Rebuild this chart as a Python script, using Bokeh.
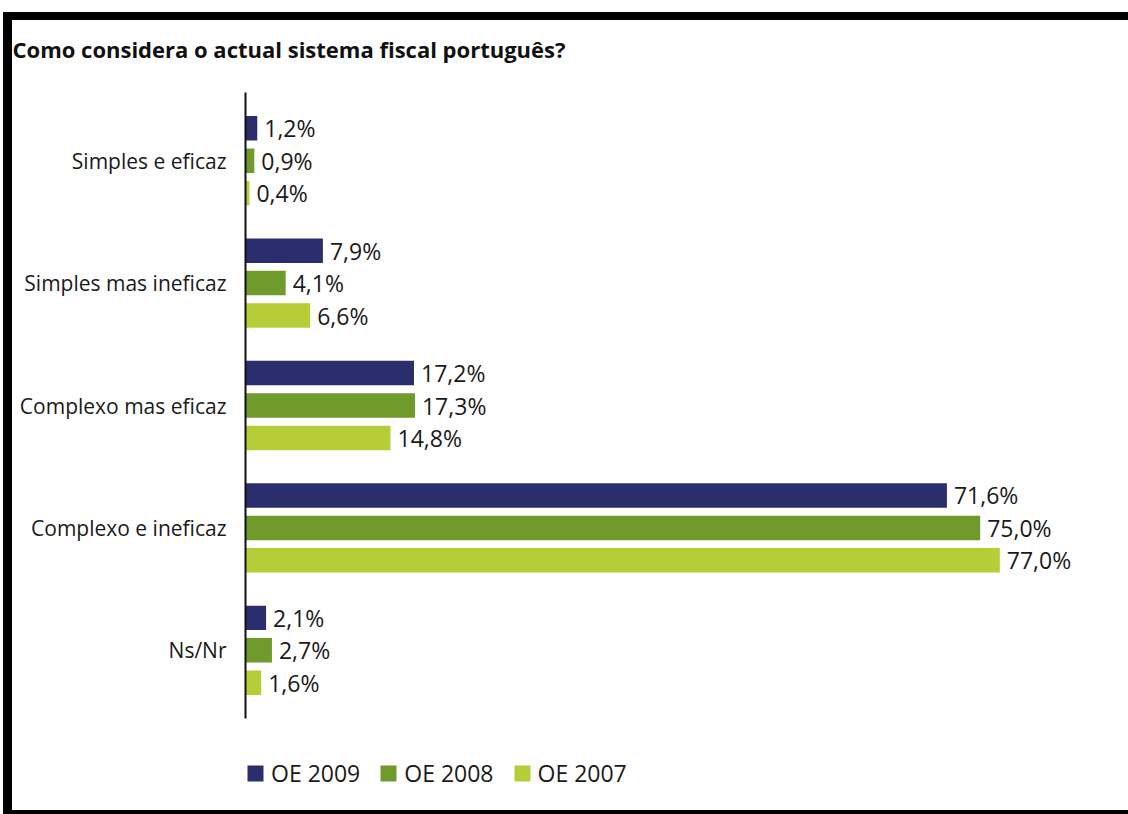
from bokeh.plotting import figure
from bokeh.layouts import column
from bokeh.models import ColumnDataSource, FactorRange, Range1d, Legend, LegendItem
from bokeh.transform import dodge
from bokeh.core.properties import value
from bokeh.embed import file_html
from bokeh.resources import INLINE

categories = ["Simples e eficaz", "Simples mas ineficaz", "Complexo mas eficaz", "Complexo e ineficaz", "Ns/Nr"]
series = ["OE 2009", "OE 2008", "OE 2007"]
oe2009 = [1.2, 7.9, 17.2, 71.6, 2.1]
oe2008 = [0.9, 4.1, 17.3, 75.0, 2.7]
oe2007 = [0.4, 6.6, 14.8, 77.0, 1.6]
colors = ["#2a2e6c", "#6f9a2c", "#b6cd37"]
title_text = "Como considera o actual sistema fiscal português?"

FONT = "Open Sans"


def fmt(v):
    return f"{v:.1f}".replace(".", ",") + "%"


W, H_MAIN, H_LEG = 1128, 740, 74
p = figure(width=W, height=H_MAIN, output_backend="svg", toolbar_location=None,
           title=title_text, x_axis_location=None,
           y_range=FactorRange(factors=categories[::-1], range_padding=0.057,
                               range_padding_units="absolute"),
           x_range=Range1d(0, 88.3),
           min_border_left=245, min_border_right=18, min_border_top=92, min_border_bottom=22)
p.title.align = "left"
p.title.offset = -233
p.title.standoff = 58
p.title.text_font = FONT
p.title.text_font_style = "bold"
p.title.text_font_size = "22px"
p.title.text_color = "#111111"

p.xgrid.visible = False
p.ygrid.visible = False
p.outline_line_color = None
p.background_fill_color = "white"
p.border_fill_alpha = 0

ax = p.yaxis[0]
ax.axis_line_color = "#111111"
ax.axis_line_width = 2
ax.major_tick_line_color = None
ax.minor_tick_line_color = None
ax.major_label_text_font = FONT
ax.major_label_text_font_size = "21px"
ax.major_label_text_color = "#1a1a1a"
ax.major_label_standoff = 13

# small strip below the chart that carries the legend
pl = figure(width=W, height=H_LEG, output_backend="svg", toolbar_location=None,
            x_axis_location=None, y_axis_location=None,
            x_range=Range1d(0, 1), y_range=Range1d(0, 1),
            min_border=0)
pl.xgrid.visible = False
pl.ygrid.visible = False
pl.outline_line_color = None
pl.background_fill_alpha = 0
pl.border_fill_alpha = 0

items = []
for s, vals, col, off in zip(series, [oe2009, oe2008, oe2007], colors, [0.265, 0.0, -0.265]):
    src = ColumnDataSource(dict(cat=categories, val=vals, lbl=[fmt(v) for v in vals]))
    p.hbar(y=dodge("cat", off, range=p.y_range), left=0, right="val", height=0.2,
           fill_color=col, line_color=None, source=src)
    p.text(x="val", y=dodge("cat", off, range=p.y_range), text="lbl", x_offset=7,
           text_baseline="middle", text_align="left", text_font=value(FONT),
           text_font_size="23px", text_color="#1a1a1a", source=src)
    # legend key: same series, hidden in the strip (only its swatch is shown)
    key = pl.hbar(y="val", left=0, right="val", height=0.2, fill_color=col, line_color=None,
                  source=src, visible=False)
    items.append(LegendItem(label=s, renderers=[key]))

legend = Legend(items=items, orientation="horizontal", location=(0, 25),
                glyph_width=20, glyph_height=20, label_standoff=6, spacing=18,
                padding=0, margin=0, border_line_color=None, background_fill_alpha=0,
                inactive_fill_alpha=0,
                label_text_font=FONT, label_text_font_size="23px", label_text_color="#1a1a1a")
pl.add_layout(legend)

layout = column(p, pl, spacing=0,
                styles={"box-shadow": "inset 3px 12px 0 0 white, inset 12px 20px 0 0 black, inset 0 -4px 0 0 black",
                        "background-color": "white"})

open("out.html", "w").write(file_html(layout, INLINE))
